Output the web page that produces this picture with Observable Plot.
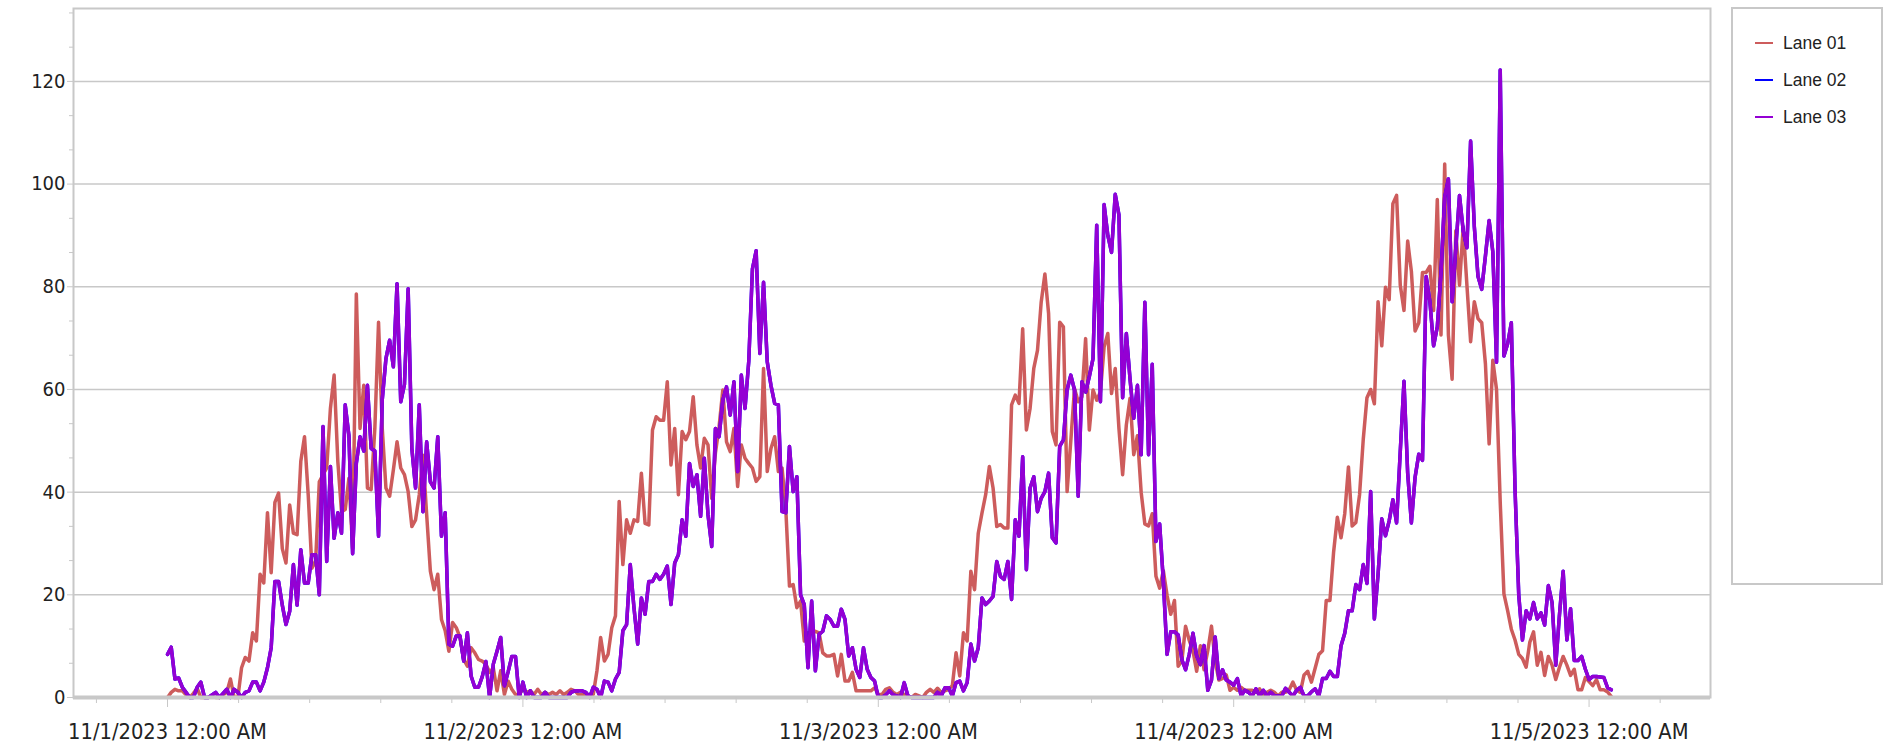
<!DOCTYPE html>
<html>
<head>
<meta charset="utf-8">
<script src="https://cdn.jsdelivr.net/npm/d3@7"></script>
<script src="https://cdn.jsdelivr.net/npm/@observablehq/plot@0.6"></script>
<style>
  html, body { margin: 0; padding: 0; background: #fff; }
  #wrap { position: relative; width: 1902px; height: 746px; }
  #legend { position: absolute; left: 1731px; top: 7px; width: 152px; height: 578px;
            border: 2px solid #c8c8c8; box-sizing: border-box; background: #fff;
            font-family: "Liberation Sans", Arial, sans-serif; font-size: 17.5px; color: #222; }
  .item { position: absolute; left: 22px; height: 20px; display: flex; align-items: center; }
  .sw { width: 18px; height: 2px; margin-right: 10px; }
</style>
</head>
<body>
<div id="wrap"><div id="chart"></div><div id="legend"></div></div>
<script>
// ---- data (15-minute samples starting 11/1/2023 12:00 AM) ----
const startTime = "2023-11-01T00:00:00Z";
const stepMinutes = 15;
const seriesNames = ["Lane 01", "Lane 02", "Lane 03"];

const lane01 = [
0,1,1.6,1.3,1.3,0.5,0,0.8,1.8,0, 0,0,0.3,0,0,0.5,1,3.6,0,0,
5.8,7.8,7.1,12.6,11,24,22.3,36,24.3,38, 39.8,29,26.2,37.5,32,31.7,46,50.8,39.5,25.2,
26.5,42,43.4,44.7,56.3,62.8,46,36.2,36.6,42.7, 29,78.6,52.4,60.8,40.8,40.5,52.4,73.1,52.4,40.8,
39.2,44.3,49.8,44.7,43.4,40.1,33.3,34.6,39.5,47.2, 35.6,24.6,21,24,15.2,13,9,14.6,13.6,11.7,
7.4,6.1,9.7,8.7,7.4,7.1,6.5,4.9,5.8,1.3, 5.2,0.6,3.2,1.6,0.6,0.6,1.6,1,1.3,0.6,
1.6,0.6,1,0.6,1,0.6,1.3,0.6,1,1.6, 1.3,0.6,0.6,0.6,0.6,0.6,5.2,11.7,7.1,8.4,
13.6,15.9,38.2,25.9,34.6,32,34.6,34.3,43.7,33.9, 33.6,52.1,54.7,54,54,61.5,45.3,52.4,39.5,51.8,
50.2,51.8,58.6,49.2,44.7,50.5,49.2,38.8,47.6,52.8, 59.9,49.8,47.9,52.4,41.1,49.2,46.6,45.6,44.7,42.1,
43,64.1,44,48.5,50.8,44,44.7,36.9,21.7,22, 17.5,18.8,11,12.6,12.6,12.9,12.6,8.7,8.1,8.1,
8.4,4.2,8.4,3.2,3.2,4.9,1.3,1.3,1.3,1.3, 1.3,1.9,0.6,0.6,1.6,1.9,1,0.6,1,0.6,
0.3,0,0.6,0.3,0,1,1.6,1,1.8,1, 1.3,1.6,2.3,8.7,4.2,12.6,11,24.6,21,32,
35.9,39.5,45,40.8,33.3,33.7,33,33,57,58.9, 57.3,71.8,52.1,56.3,64.1,67.6,77,82.5,74.8,51.8,
49.2,73.1,72.2,40.1,50,60.2,57.6,58.6,69.9,52.1, 59.9,57.9,59.5,68.3,70.9,59.2,64.1,52.4,43.4,53.1,
58.3,47.3,51,40,33.8,33.4,35.8,23.6,21.3,24.7, 19.9,16.2,18.9,6.1,7.1,13.9,11.1,9.1,5.1,10.1,
5.4,9.1,13.9,7.1,3.4,3.7,4.4,1.4,2,1.4, 2,1.4,1.4,1.4,1,1.7,0.3,1,1.4,1,
0.3,1,1,1.5,3,1.4,1,4.4,5.1,3, 5.7,8.4,9.1,18.9,18.9,28.4,35.1,31.1,35.8,44.9,
33.4,34.1,39.5,50.3,58.4,60,57.2,77.1,68.5,79.9, 77.5,96.2,97.8,80.3,75.4,88.9,83,71.4,73,82.8,
82.8,84,75.4,97,70.6,103.9,70.6,62,90.9,80.3, 91.7,80.3,69.3,77.1,73.8,73,65,49.4,65.7,60,
38,20.2,16.9,13.3,11.2,8.4,7.6,5.9,10.8,12.8, 6.3,8.8,4.3,8,6.3,3.5,5.9,8,6.3,4.3,
5.5,1.5,1.5,3.9,3.1,2.3,3.5,1.5,1.5,1.1, 0.2
];

const lane03 = [
8.4,9.8,3.6,3.8,2,1,0,0,2,3, 0,0,0.5,1,0,0.8,1.6,0,1.6,1,
0,1,1.3,3,3,1.3,3,5.8,9.7,22.6, 22.6,18,14.2,16.8,25.9,18,28.8,22.3,22.3,27.8,
27.8,20,52.8,26.5,45,31,36,32,57,51, 28,45.6,50.8,48,60.8,48.5,48,31.4,58,66,
69.6,64.4,80.6,57.6,61,79.6,48.5,40.8,57,36.2, 49.8,42,40.8,50.8,31.4,36,10.4,10,12,12,
7.1,12.6,4.2,2,2,4,7,0,6.5,9, 11.7,2.3,5,8,8,0,3,0,1.3,0,
0,0,1,0,0,0,0,0,0,1, 1.3,1.3,1.3,1,0,2,1.6,0,3.2,3,
1.3,3.6,4.9,13,14.2,25.9,17.5,10.4,19.4,16.2, 22.6,22.6,24,23,24,25.6,18.1,26.2,27.8,34.6,
31.4,45.6,41.1,43.4,35.3,46.6,35.6,29.4,52.4,50.8, 57.9,60.5,55,61.5,44,62.8,56.3,65.4,83.5,87,
67,80.9,65.4,60.8,57.3,57,36.2,36,48.9,40.1, 43,20,18.1,5.8,18.8,5.2,12.3,12.9,15.9,15.2,
13.9,13.9,17.2,15.2,8.1,9.7,5.5,3.9,9.7,5.5, 3.9,3.2,0,0,0.5,1.3,0.5,0.3,0,2.9,
0.3,0,0,0,0,0,0,0,1,0.3, 1.9,1.9,0.3,2.9,3.2,1.3,2.9,10.4,7.1,9.7,
19.4,18.1,18.8,19.7,26.5,23.6,23,26.5,19.1,34.6, 31.4,46.9,24.9,40.8,43,36.2,38.8,40.1,43.7,31.1,
30.1,48.9,50.2,59.9,62.8,59.9,39.2,61.5,59.5,62.5, 66,92,57.6,96,90,86.7,98,94,58.4,70.9,
62,54.4,60.8,47.3,77,47.3,64.9,30.4,33.8,22.6, 8.4,12.8,12.8,12.2,7.4,5.4,8.4,12.5,8.1,6.4,
10.1,1.4,3.4,11.8,3.7,5.4,3.4,3,2.4,3.7, 0.3,1.4,1,0.3,1.7,0.3,1.4,0.3,1,0.3,
0.3,0.3,1.8,1,0.3,1.4,2,0.3,0.3,1.1, 1.7,0.3,3.7,3.7,5.1,4.1,4.1,10.1,12.5,16.9,
16.9,22,21,25.9,22.2,40.1,15.3,24,34.8,31.5, 34.4,38.5,34,48,61.6,43.7,34,42.9,47.4,46.2,
82,77.1,68.5,72.2,82.8,97.4,101,77.1,87.6,97.8, 90.9,87.6,108.4,91.7,82,79.5,86,92.9,86.8,65.3,
122.2,66.5,68.9,73,40.5,20,11.2,16.9,15.3,18.5, 15.3,16.5,14.1,21.8,18.5,6.3,16.1,24.6,11.2,17.3,
7.2,7.2,8,5.5,3.5,4.1,4.1,4,3.9,1.9, 1.5
];

// Lane 02 coincides with Lane 03 and is drawn underneath it (fully hidden)
const lane02 = lane03;

const yTicks = [0, 20, 40, 60, 80, 100, 120];
const xTickLabels = ["11/1/2023 12:00 AM", "11/2/2023 12:00 AM", "11/3/2023 12:00 AM", "11/4/2023 12:00 AM", "11/5/2023 12:00 AM"];
const xTickDates = ["2023-11-01T00:00:00Z", "2023-11-02T00:00:00Z", "2023-11-03T00:00:00Z", "2023-11-04T00:00:00Z", "2023-11-05T00:00:00Z"];

// ---- build ----
const colors = ["#cd5c5c", "#0000ff", "#9400d3"];
const t0 = Date.parse(startTime);
const stepMs = stepMinutes * 60000;
const seriesValues = [lane01, lane02, lane03];
const data = [];
seriesNames.forEach((name, si) => {
  seriesValues[si].forEach((v, i) => data.push({lane: name, time: new Date(t0 + i * stepMs), value: v}));
});

const H = 3600000;
const xDomain = [new Date(t0 - 6.35 * H), new Date(t0 + 104.2 * H)];
const majorX = xTickDates.map(d => new Date(d));
const minorX = d3.range(-1, 26).map(k => new Date(t0 + k * 4.8 * H)).filter(d => d >= xDomain[0] && d <= xDomain[1] && !majorX.some(m => +m === +d));
const minorY = d3.range(1, 21).map(k => k * 20 / 3).filter(v => Math.abs(v - Math.round(v / 20) * 20) > 0.5);

const axisFont = '"DejaVu Sans Condensed", "DejaVu Sans", sans-serif';

const chart = Plot.plot({
  width: 1902,
  height: 746,
  marginLeft: 73,
  marginRight: 192,
  marginTop: 8,
  marginBottom: 49,
  style: {background: "#fff", fontFamily: axisFont, color: "#222"},
  x: {type: "utc", domain: xDomain, axis: null, label: null},
  y: {domain: [0, 134.2], axis: null, label: null},
  color: {domain: seriesNames, range: colors},
  marks: [
    Plot.gridY(yTicks.filter(d => d > 0), {stroke: "#c8c8c8", strokeOpacity: 1, strokeWidth: 1.5}),
    Plot.line(data, {x: "time", y: "value", z: "lane", stroke: "lane", strokeWidth: 3.5}),
    Plot.frame({stroke: "#c8c8c8", strokeWidth: 2}),
    Plot.ruleY([0], {stroke: "#c8c8c8", strokeWidth: 4}),
    Plot.axisY(yTicks, {label: null, tickSize: 6, tickPadding: 2, stroke: "#c8c8c8", fill: "#222", fontSize: 20, tickFormat: d => String(d)}),
    Plot.axisY(minorY, {label: null, tickSize: 4, text: null, stroke: "#c8c8c8"}),
    Plot.axisX(majorX, {label: null, tickSize: 10, tickPadding: 16, stroke: "#c8c8c8", fill: "#222", fontSize: 21.7,
      tickFormat: (d) => xTickLabels[majorX.findIndex(m => +m === +d)]}),
    Plot.axisX(minorX, {label: null, tickSize: 6, text: null, stroke: "#c8c8c8"})
  ]
});
document.getElementById("chart").appendChild(chart);

// legend
const legend = document.getElementById("legend");
seriesNames.forEach((name, i) => {
  const item = document.createElement("div");
  item.className = "item";
  item.style.top = (24 + i * 37) + "px";
  const sw = document.createElement("span");
  sw.className = "sw";
  sw.style.background = colors[i];
  const tx = document.createElement("span");
  tx.textContent = name;
  item.appendChild(sw); item.appendChild(tx);
  legend.appendChild(item);
});
</script>
</body>
</html>
